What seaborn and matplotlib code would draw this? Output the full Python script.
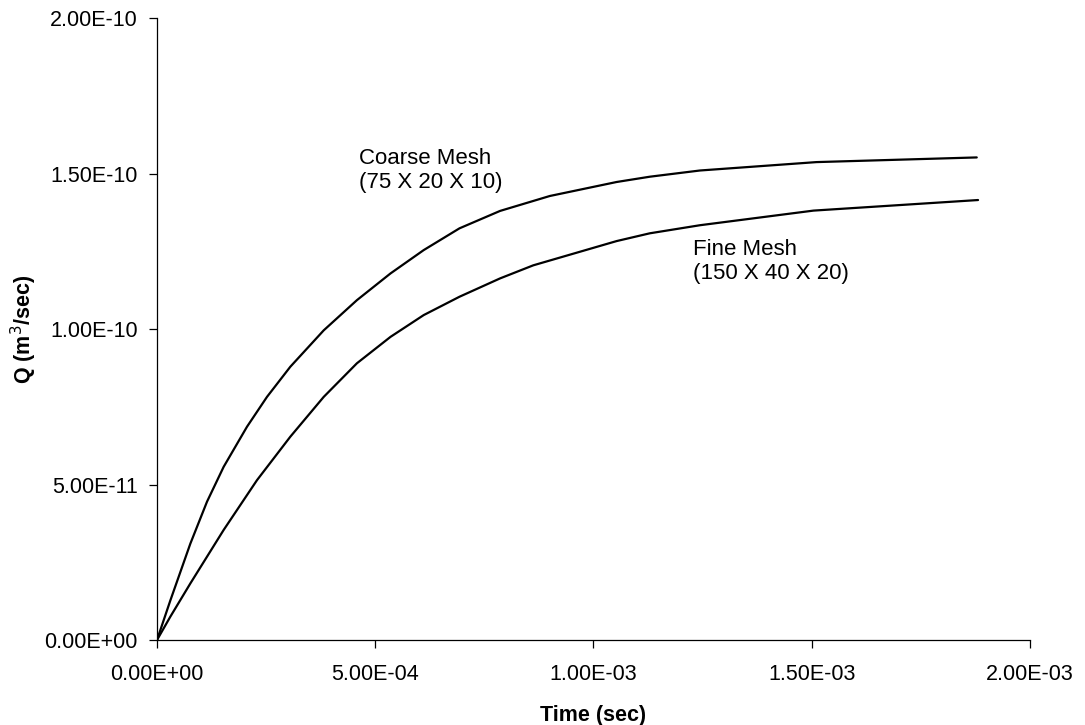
import matplotlib
matplotlib.use("Agg")
import matplotlib.pyplot as plt
import seaborn as sns
import pandas as pd
from matplotlib.ticker import FuncFormatter

# values
coarse_t = [0.0, 3.05e-5, 7.64e-5, 1.146e-4, 1.527e-4, 2.062e-4, 2.52e-4, 3.055e-4,
            3.82e-4, 4.58e-4, 5.35e-4, 6.11e-4, 6.93e-4, 7.86e-4, 9.0e-4,
            1.053e-3, 1.129e-3, 1.244e-3, 1.511e-3, 1.878e-3]
coarse_q = [0.0, 1.27e-11, 3.10e-11, 4.45e-11, 5.57e-11, 6.86e-11, 7.82e-11, 8.79e-11,
            9.96e-11, 1.093e-10, 1.179e-10, 1.254e-10, 1.324e-10, 1.380e-10, 1.428e-10,
            1.473e-10, 1.490e-10, 1.510e-10, 1.537e-10, 1.552e-10]

fine_t = [0.0, 3.05e-5, 7.64e-5, 1.527e-4, 2.29e-4, 3.055e-4, 3.82e-4, 4.58e-4,
          5.35e-4, 6.11e-4, 6.93e-4, 7.86e-4, 8.62e-4, 1.053e-3, 1.129e-3,
          1.244e-3, 1.504e-3, 1.881e-3]
fine_q = [0.0, 7.5e-12, 1.82e-11, 3.54e-11, 5.14e-11, 6.54e-11, 7.82e-11, 8.90e-11,
          9.75e-11, 1.045e-10, 1.104e-10, 1.163e-10, 1.205e-10, 1.283e-10, 1.308e-10,
          1.334e-10, 1.381e-10, 1.415e-10]

x_ticks = [0.0, 5e-4, 1e-3, 1.5e-3, 2e-3]
y_ticks = [0.0, 5e-11, 1e-10, 1.5e-10, 2e-10]

df = pd.concat([
    pd.DataFrame({"t": coarse_t, "q": coarse_q, "mesh": "coarse"}),
    pd.DataFrame({"t": fine_t, "q": fine_q, "mesh": "fine"}),
])

sns.set_style("ticks")
plt.rcParams["font.family"] = ["Liberation Sans", "DejaVu Sans"]
plt.rcParams["text.color"] = "black"
plt.rcParams["axes.labelcolor"] = "black"

fig = plt.figure(figsize=(10.85, 7.25), dpi=100)
ax = fig.add_axes([0.1447, 0.1172, 0.8046, 0.8578])

sns.lineplot(data=df, x="t", y="q", hue="mesh", palette=["black", "black"],
             linewidth=1.6, legend=False, ax=ax, estimator=None, sort=False)

ax.set_xlim(0, 2e-3)
ax.set_ylim(0, 2e-10)
ax.set_xticks(x_ticks)
ax.set_yticks(y_ticks)
sci = FuncFormatter(lambda v, p: f"{v:.2E}")
ax.xaxis.set_major_formatter(sci)
ax.yaxis.set_major_formatter(sci)
ax.tick_params(direction="out", length=6, width=0.9, colors="black",
               labelsize=15.5)
ax.tick_params(axis="x", pad=11)
ax.tick_params(axis="y", pad=8)

sns.despine(ax=ax)
for s in ["left", "bottom"]:
    ax.spines[s].set_linewidth(0.9)
    ax.spines[s].set_color("black")

ax.set_xlabel("Time (sec)", fontsize=15.5, fontweight="bold", labelpad=15)
ax.set_ylabel("Q (m$^3$/sec)", fontsize=15.5, fontweight="bold", labelpad=4)

ax.text(4.63e-4, 1.511e-10, "Coarse Mesh\n(75 X 20 X 10)", fontsize=16,
        va="center", ha="left")
ax.text(1.229e-3, 1.217e-10, "Fine Mesh\n(150 X 40 X 20)", fontsize=16,
        va="center", ha="left")

fig.savefig("out.png", dpi=100)
